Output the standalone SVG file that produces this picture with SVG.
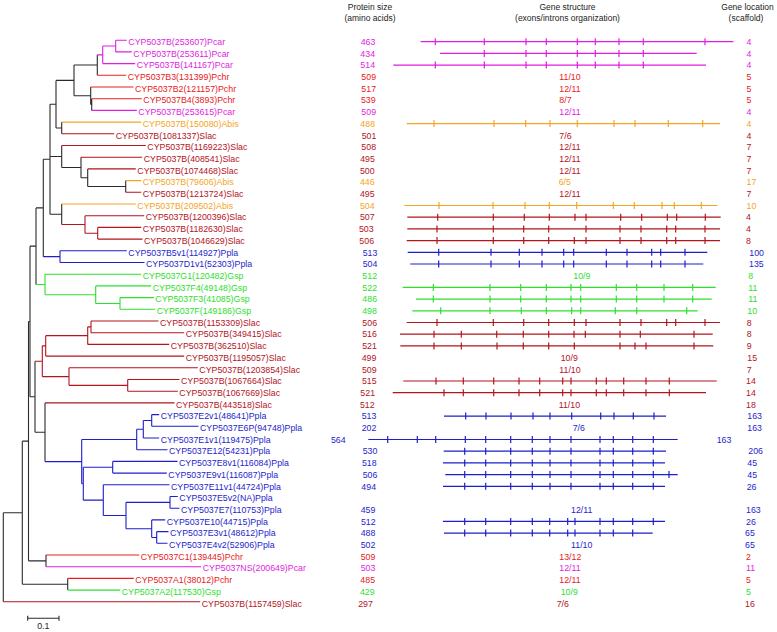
<svg xmlns="http://www.w3.org/2000/svg" width="777" height="632" viewBox="0 0 777 632">
<style>
text{font-family:"Liberation Sans",Arial,sans-serif;font-size:8.8px;stroke:none}
.h{font-size:8.5px;fill:#222;text-anchor:middle}
.n{text-anchor:middle}
path{fill:none;stroke-width:1.1}
.g path{stroke-width:1.2}
.bk{stroke:#2b2b2b;fill:#2b2b2b}
.mg{stroke:#e01ee0;fill:#e01ee0}
.rd{stroke:#e8201c;fill:#e8201c}
.dr{stroke:#b3141e;fill:#b3141e}
.or{stroke:#f5a524;fill:#f5a524}
.bl{stroke:#1e1ecc;fill:#1e1ecc}
.gr{stroke:#2ee02e;fill:#2ee02e}
</style>
<rect width="777" height="632" fill="#fff"/>
<g id="headers">
<text class="h" x="370" y="10">Protein size</text>
<text class="h" x="370" y="21">(amino acids)</text>
<text class="h" x="567.5" y="10">Gene structure</text>
<text class="h" x="567.5" y="21">(exons/introns organization)</text>
<text class="h" x="747.5" y="10">Gene location</text>
<text class="h" x="746" y="21">(scaffold)</text>
</g>
<g id="tree">
<path class="bk" d="M74 65.06H97.3M90.7 104.55H91.7M74 95.78H90.7M56 80.42H74M56 127.95H61.7M50 104.19H56M87.7 186.45H125.7M81 177.68H87.7M61.7 167.44H81M50 156.47H61.7M50 214.24H61.7M43.3 159.2H50M36 207.9H43.3M30 246.17H36M35 432.24H45M30 396.73H35M28.5 321.45H30M28.5 560.85H46M22.3 441.15H28.5M22.3 584.25H67.7M3.3 512.7H22.3M97.3 54.83V75.3M91.7 98.7V110.4M90.7 87V104.55M74 65.06V95.78M61.7 122.1V133.8M56 80.42V127.95M125.7 180.6V192.3M87.7 168.9V186.45M81 157.2V177.68M61.7 145.5V167.44M61.7 204V224.48M50 104.19V214.24M43.3 159.2V256.65M36 207.9V284.44M45 402.9V461.58M35 361.22V432.24M30 246.17V396.73M46 555V566.7M28.5 321.45V560.85M67.7 578.4V590.1M22.3 441.15V584.25M3.3 512.7V601.8"/>
<path class="mg" d="M115.7 40.2H126.8M115.7 51.9H131.8M102.7 63.6H135.2M91.7 110.4H136.8M46 566.7H201.2M102.7 46.05H115.7M97.3 54.83H102.7M115.7 40.2V51.9M102.7 46.05V63.6"/>
<path class="rd" d="M97.3 75.3H126.2M90.7 87H133.5M91.7 98.7H141.8M46 555H139.2M67.7 578.4H133.8"/>
<path class="or" d="M61.7 122.1H141.2M125.7 180.6H141.2M61.7 204H135.8"/>
<path class="dr" d="M61.7 133.8H114.2M61.7 145.5H145.8M81 157.2H142.2M87.7 168.9H135.8M125.7 192.3H141.2M85 215.7H144.2M97.7 227.4H141.2M97.7 239.1H142.5M91 321H158.5M91 332.7H184.2M87.7 344.4H169.2M45.7 356.1H184.2M69 367.8H197.8M127.7 379.5H179.5M127.7 391.2H177.8M45 402.9H174.5M3.3 601.8H200.2M85 233.25H97.7M61.7 224.48H85M87.7 326.85H91M45.7 335.63H87.7M42.3 345.86H45.7M69 385.35H127.7M42.3 376.58H69M35 361.22H42.3M97.7 227.4V239.1M85 215.7V233.25M91 321V332.7M87.7 326.85V344.4M45.7 335.63V356.1M127.7 379.5V391.2M69 367.8V385.35M42.3 345.86V376.58"/>
<path class="bl" d="M60 250.8H126.8M60 262.5H144.5M151.7 414.6H159.2M151.7 426.3H198.5M143.3 438H159.2M136.7 449.7H167.5M112.7 461.4H177.5M112.7 473.1H166.8M103.3 484.8H169.5M170 496.5H177.8M170 508.2H179.5M151.7 519.9H165.2M156.7 531.6H168.5M156.7 543.3H167.5M43.3 256.65H60M143.3 420.45H151.7M136.7 429.23H143.3M81.7 439.46H136.7M83.3 467.25H112.7M126 502.35H170M151.7 537.45H156.7M126 528.68H151.7M103.3 515.51H126M83.3 500.16H103.3M81.7 483.7H83.3M45 461.58H81.7M60 250.8V262.5M151.7 414.6V426.3M143.3 420.45V438M136.7 429.23V449.7M112.7 461.4V473.1M170 496.5V508.2M156.7 531.6V543.3M151.7 519.9V537.45M126 502.35V528.68M103.3 484.8V515.51M83.3 467.25V500.16M81.7 439.46V483.7"/>
<path class="gr" d="M45 274.2H141.2M95.7 285.9H151.2M120 297.6H153.8M120 309.3H155.2M67.7 590.1H120.2M95.7 303.45H120M45 294.68H95.7M36 284.44H45M120 297.6V309.3M95.7 285.9V303.45M45 274.2V294.68"/>
</g>
<g id="scale">
<path class="bk" d="M27.7 618.3H59M27.7 615.8v5M59 615.8v5"/>
<text class="n" x="43.3" y="629" fill="#222">0.1</text>
</g>
<g id="r1" class="mg g"><text x="128.3" y="44.9">CYP5037B(253607)Pcar</text><text class="n" x="368" y="44.9">463</text><path d="M420.7 41.7H733.3M435.3 38.2v7M484.3 38.2v7M526 38.2v7M546.3 38.2v7M577.3 38.2v7M595.3 38.2v7M619 38.2v7M643.3 38.2v7M705 38.2v7"/><text x="746.5" y="44.9">4</text></g>
<g id="r2" class="mg g"><text x="133.3" y="56.6">CYP5037B(253611)Pcar</text><text class="n" x="367.7" y="56.6">434</text><path d="M440 53.4H696.7M484.3 49.9v7M526 49.9v7M546.3 49.9v7M577.3 49.9v7M595.3 49.9v7M619 49.9v7M643.3 49.9v7"/><text x="746.5" y="56.6">4</text></g>
<g id="r3" class="mg g"><text x="136.7" y="68.3">CYP5037B(141167)Pcar</text><text class="n" x="367.7" y="68.3">514</text><path d="M393.3 65.1H706M435.3 61.6v7M484.3 61.6v7M526 61.6v7M546.3 61.6v7M577.3 61.6v7M595.3 61.6v7M619 61.6v7M643.3 61.6v7"/><text x="746.5" y="68.3">4</text></g>
<g id="r4" class="rd"><text x="127.7" y="80">CYP5037B3(131399)Pchr</text><text class="n" x="368.7" y="80">509</text><text x="559.3" y="80">11/10</text><text x="746.5" y="80">5</text></g>
<g id="r5" class="rd"><text x="135" y="91.7">CYP5037B2(121157)Pchr</text><text class="n" x="368.7" y="91.7">517</text><text x="559.3" y="91.7">12/11</text><text x="746.5" y="91.7">5</text></g>
<g id="r6" class="rd"><text x="143.3" y="103.4">CYP5037B4(3893)Pchr</text><text class="n" x="368.3" y="103.4">539</text><text x="559.3" y="103.4">8/7</text><text x="746.5" y="103.4">5</text></g>
<g id="r7" class="mg"><text x="138.3" y="115.1">CYP5037B(253615)Pcar</text><text class="n" x="368.7" y="115.1">509</text><text x="559.3" y="115.1">12/11</text><text x="746.5" y="115.1">4</text></g>
<g id="r8" class="or g"><text x="142.7" y="126.8">CYP5037B(150080)Abis</text><text class="n" x="367.7" y="126.8">488</text><path d="M406.7 123.6H720M434 120.1v7M494 120.1v7M525.7 120.1v7M550 120.1v7M577.3 120.1v7M614 120.1v7M635 120.1v7M668.3 120.1v7M702.7 120.1v7"/><text x="746.5" y="126.8">4</text></g>
<g id="r9" class="dr"><text x="115.7" y="138.5">CYP5037B(1081337)Slac</text><text class="n" x="369" y="138.5">501</text><text x="559.3" y="138.5">7/6</text><text x="746.5" y="138.5">4</text></g>
<g id="r10" class="dr"><text x="147.3" y="150.2">CYP5037B(1169223)Slac</text><text class="n" x="368.7" y="150.2">508</text><text x="559.3" y="150.2">12/11</text><text x="746.5" y="150.2">7</text></g>
<g id="r11" class="dr"><text x="143.7" y="161.9">CYP5037B(408541)Slac</text><text class="n" x="367.5" y="161.9">495</text><text x="559.3" y="161.9">12/11</text><text x="746.5" y="161.9">7</text></g>
<g id="r12" class="dr"><text x="137.3" y="173.6">CYP5037B(1074468)Slac</text><text class="n" x="367.3" y="173.6">500</text><text x="559.3" y="173.6">12/11</text><text x="746.5" y="173.6">7</text></g>
<g id="r13" class="or"><text x="142.7" y="185.3">CYP5037B(79606)Abis</text><text class="n" x="367.3" y="185.3">446</text><text x="558.7" y="185.3">6/5</text><text x="746.5" y="185.3">17</text></g>
<g id="r14" class="dr"><text x="142.7" y="197">CYP5037B(1213724)Slac</text><text class="n" x="367.3" y="197">495</text><text x="559.3" y="197">12/11</text><text x="746.5" y="197">7</text></g>
<g id="r15" class="or g"><text x="137.3" y="208.7">CYP5037B(209502)Abis</text><text class="n" x="367.3" y="208.7">504</text><path d="M404.3 205.5H717.3M439 202v7M493 202v7M525 202v7M549.3 202v7M576.7 202v7M613.3 202v7M634.3 202v7M662 202v7M674.3 202v7M701.3 202v7"/><text x="746.5" y="208.7">10</text></g>
<g id="r16" class="dr g"><text x="145.7" y="220.4">CYP5037B(1200396)Slac</text><text class="n" x="367.3" y="220.4">507</text><path d="M407.3 217.2H720.7M437.7 213.7v7M493.3 213.7v7M524.3 213.7v7M549.3 213.7v7M575 213.7v7M586 213.7v7M620.7 213.7v7M641.7 213.7v7M667.3 213.7v7M676.7 213.7v7M705.3 213.7v7"/><text x="746" y="220.4">4</text></g>
<g id="r17" class="dr g"><text x="142.7" y="232.1">CYP5037B(1182630)Slac</text><text class="n" x="366.3" y="232.1">503</text><path d="M407.3 228.9H720M437 225.4v7M493.3 225.4v7M523.7 225.4v7M548.7 225.4v7M586 225.4v7M620 225.4v7M641 225.4v7M666.7 225.4v7M675.7 225.4v7M705 225.4v7"/><text x="746" y="232.1">4</text></g>
<g id="r18" class="dr g"><text x="144" y="243.8">CYP5037B(1046629)Slac</text><text class="n" x="366.7" y="243.8">506</text><path d="M406.7 240.6H720M437 237.1v7M493.3 237.1v7M523.7 237.1v7M548.7 237.1v7M574.3 237.1v7M586 237.1v7M620 237.1v7M641 237.1v7M666.7 237.1v7M675.7 237.1v7M705 237.1v7"/><text x="746" y="243.8">8</text></g>
<g id="r19" class="bl g"><text x="128.3" y="255.5">CYP5037B5v1(114927)Ppla</text><text class="n" x="370" y="255.5">513</text><path d="M407.7 252.3H707.3M438.7 248.8v7M491 248.8v7M519.3 248.8v7M542 248.8v7M563.7 248.8v7M573.7 248.8v7M606.3 248.8v7M627 248.8v7M651.7 248.8v7M660.7 248.8v7M685 248.8v7"/><text x="749.3" y="255.5">100</text></g>
<g id="r20" class="bl g"><text x="146" y="267.2">CYP5037D1v1(52303)Ppla</text><text class="n" x="370" y="267.2">504</text><path d="M410.3 264H703.3M438.7 260.5v7M491 260.5v7M519.3 260.5v7M542 260.5v7M563.7 260.5v7M573.7 260.5v7M606.3 260.5v7M627 260.5v7M651.7 260.5v7M660.7 260.5v7M685 260.5v7"/><text x="749" y="267.2">135</text></g>
<g id="r21" class="gr"><text x="142.7" y="278.9">CYP5037G1(120482)Gsp</text><text class="n" x="369.7" y="278.9">512</text><text x="573.3" y="278.9">10/9</text><text x="748.3" y="278.9">8</text></g>
<g id="r22" class="gr g"><text x="152.7" y="290.6">CYP5037F4(49148)Gsp</text><text class="n" x="369.7" y="290.6">522</text><path d="M402.7 287.4H715.7M433.3 283.9v7M490 283.9v7M520.7 283.9v7M546.3 283.9v7M571 283.9v7M580.7 283.9v7M616.3 283.9v7M636.7 283.9v7M664 283.9v7M692.7 283.9v7"/><text x="748.3" y="290.6">11</text></g>
<g id="r23" class="gr g"><text x="155.3" y="302.3">CYP5037F3(41085)Gsp</text><text class="n" x="369.7" y="302.3">486</text><path d="M416 299.1H711.7M433.3 295.6v7M490 295.6v7M520.7 295.6v7M546.3 295.6v7M571 295.6v7M580.7 295.6v7M616.3 295.6v7M636.7 295.6v7M664 295.6v7M692.7 295.6v7"/><text x="748.3" y="302.3">11</text></g>
<g id="r24" class="gr g"><text x="156.7" y="314">CYP5037F(149186)Gsp</text><text class="n" x="369.5" y="314">498</text><path d="M412.3 310.8H697.7M440.7 307.3v7M490 307.3v7M521.3 307.3v7M546.3 307.3v7M571.7 307.3v7M580.7 307.3v7M615.3 307.3v7M636.7 307.3v7M686.7 307.3v7"/><text x="747.3" y="314">10</text></g>
<g id="r25" class="dr g"><text x="160" y="325.7">CYP5037B(1153309)Slac</text><text class="n" x="369.7" y="325.7">506</text><path d="M406.7 322.5H720M437 319v7M493.3 319v7M523.7 319v7M548.7 319v7M574.3 319v7M586 319v7M620 319v7M641 319v7M666.7 319v7M675.7 319v7M705 319v7"/><text x="746.7" y="325.7">8</text></g>
<g id="r26" class="dr g"><text x="185.7" y="337.4">CYP5037B(349415)Slac</text><text class="n" x="369.5" y="337.4">516</text><path d="M400 334.2H712.7M434 330.7v7M461.3 330.7v7M496.7 330.7v7M523.3 330.7v7M548.7 330.7v7M574 330.7v7M585.3 330.7v7M620 330.7v7M640.3 330.7v7M694 330.7v7"/><text x="746.7" y="337.4">8</text></g>
<g id="r27" class="dr g"><text x="170.7" y="349.1">CYP5037B(362510)Slac</text><text class="n" x="369.5" y="349.1">521</text><path d="M400.3 345.9H713.3M434 342.4v7M461.3 342.4v7M497 342.4v7M523.3 342.4v7M548.7 342.4v7M574.3 342.4v7M620 342.4v7M635 342.4v7M646 342.4v7M694 342.4v7"/><text x="746.7" y="349.1">9</text></g>
<g id="r28" class="dr"><text x="185.7" y="360.8">CYP5037B(1195057)Slac</text><text class="n" x="369" y="360.8">499</text><text x="560.7" y="360.8">10/9</text><text x="747.3" y="360.8">15</text></g>
<g id="r29" class="dr"><text x="199.3" y="372.5">CYP5037B(1203854)Slac</text><text class="n" x="369.3" y="372.5">509</text><text x="559.3" y="372.5">11/10</text><text x="746.7" y="372.5">7</text></g>
<g id="r30" class="dr g"><text x="181" y="384.2">CYP5037B(1067664)Slac</text><text class="n" x="369.3" y="384.2">515</text><path d="M403.3 381H716.7M436 377.5v7M463.3 377.5v7M493.7 377.5v7M519 377.5v7M539.7 377.5v7M562.7 377.5v7M571 377.5v7M596.3 377.5v7M606.3 377.5v7M623.7 377.5v7M646 377.5v7M669.3 377.5v7"/><text x="746" y="384.2">14</text></g>
<g id="r31" class="dr g"><text x="179.3" y="395.9">CYP5037B(1067669)Slac</text><text class="n" x="367.7" y="395.9">521</text><path d="M392.7 392.7H706M444 389.2v7M463.3 389.2v7M493.7 389.2v7M519 389.2v7M539.7 389.2v7M562.7 389.2v7M571 389.2v7M596.3 389.2v7M606.3 389.2v7M623.7 389.2v7M646 389.2v7M669.3 389.2v7"/><text x="746" y="395.9">14</text></g>
<g id="r32" class="dr"><text x="176" y="407.6">CYP5037B(443518)Slac</text><text class="n" x="367.3" y="407.6">512</text><text x="558.7" y="407.6">11/10</text><text x="746" y="407.6">18</text></g>
<g id="r33" class="bl g"><text x="160.7" y="419.3">CYP5037E2v1(48641)Ppla</text><text class="n" x="369" y="419.3">513</text><path d="M444 416.1H666M465.7 412.6v7M486 412.6v7M511 412.6v7M533 412.6v7M550 412.6v7M571.7 412.6v7M600.7 412.6v7M614 412.6v7M633.3 412.6v7M654 412.6v7"/><text x="747.3" y="419.3">163</text></g>
<g id="r34" class="bl"><text x="200" y="431">CYP5037E6P(94748)Ppla</text><text class="n" x="369" y="431">202</text><text x="572.7" y="431">7/6</text><text x="747.3" y="431">163</text></g>
<g id="r35" class="bl g"><text x="160.7" y="442.7">CYP5037E1v1(119475)Ppla</text><text class="n" x="338.3" y="442.7">564</text><path d="M368.3 439.5H677.7M387.7 436v7M417.3 436v7M435.7 436v7M465.3 436v7M485.7 436v7M510.7 436v7M532.3 436v7M550 436v7M571 436v7M600 436v7M613.3 436v7M632.7 436v7M653.3 436v7"/><text x="716.7" y="442.7">163</text></g>
<g id="r36" class="bl g"><text x="169" y="454.4">CYP5037E12(54231)Ppla</text><text class="n" x="370" y="454.4">530</text><path d="M443.7 451.2H666M464.7 447.7v7M485.7 447.7v7M510.7 447.7v7M532.3 447.7v7M550 447.7v7M571 447.7v7M600 447.7v7M613.3 447.7v7M632.7 447.7v7M653.3 447.7v7"/><text x="748.3" y="454.4">206</text></g>
<g id="r37" class="bl g"><text x="179" y="466.1">CYP5037E8v1(116084)Ppla</text><text class="n" x="369.3" y="466.1">518</text><path d="M443 462.9H665M464.7 459.4v7M485.7 459.4v7M510.7 459.4v7M532.3 459.4v7M550 459.4v7M571 459.4v7M600 459.4v7M613.3 459.4v7M632.7 459.4v7M653.3 459.4v7"/><text x="747.3" y="466.1">45</text></g>
<g id="r38" class="bl g"><text x="168.3" y="477.8">CYP5037E9v1(116087)Ppla</text><text class="n" x="370" y="477.8">506</text><path d="M445.3 474.6H677.7M464.7 471.1v7M485.7 471.1v7M510.7 471.1v7M532.3 471.1v7M550 471.1v7M571 471.1v7M600 471.1v7M613.3 471.1v7M632.7 471.1v7M653.3 471.1v7M669 471.1v7"/><text x="747.3" y="477.8">45</text></g>
<g id="r39" class="bl g"><text x="171" y="489.5">CYP5037E11v1(44724)Ppla</text><text class="n" x="368.7" y="489.5">494</text><path d="M443 486.3H665M464.7 482.8v7M485.7 482.8v7M510.7 482.8v7M532.3 482.8v7M550 482.8v7M571 482.8v7M600 482.8v7M613.3 482.8v7M632.7 482.8v7M653.3 482.8v7"/><text x="746.7" y="489.5">26</text></g>
<g id="r40" class="bl"><text x="179.3" y="501.2">CYP5037E5v2(NA)Ppla</text></g>
<g id="r41" class="bl"><text x="181" y="512.9">CYP5037E7(110753)Ppla</text><text class="n" x="368" y="512.9">459</text><text x="571" y="512.9">12/11</text><text x="746" y="512.9">163</text></g>
<g id="r42" class="bl g"><text x="166.7" y="524.6">CYP5037E10(44715)Ppla</text><text class="n" x="368.3" y="524.6">512</text><path d="M443 521.4H665M464.7 517.9v7M485.7 517.9v7M510.7 517.9v7M532.3 517.9v7M549.7 517.9v7M567.7 517.9v7M575 517.9v7M600 517.9v7M613.3 517.9v7M632.7 517.9v7M653.3 517.9v7"/><text x="746" y="524.6">26</text></g>
<g id="r43" class="bl g"><text x="170" y="536.3">CYP5037E3v1(48612)Ppla</text><text class="n" x="368" y="536.3">488</text><path d="M444 533.1H652.7M464.7 529.6v7M485.7 529.6v7M510.7 529.6v7M532.3 529.6v7M549.7 529.6v7M567.7 529.6v7M575 529.6v7M600 529.6v7M613.3 529.6v7M632.7 529.6v7"/><text x="745" y="536.3">65</text></g>
<g id="r44" class="bl"><text x="169" y="548">CYP5037E4v2(52906)Ppla</text><text class="n" x="368" y="548">502</text><text x="571" y="548">11/10</text><text x="745" y="548">65</text></g>
<g id="r45" class="rd"><text x="140.7" y="559.7">CYP5037C1(139445)Pchr</text><text class="n" x="368" y="559.7">509</text><text x="559.3" y="559.7">13/12</text><text x="746" y="559.7">2</text></g>
<g id="r46" class="mg"><text x="202.7" y="571.4">CYP5037NS(200649)Pcar</text><text class="n" x="368" y="571.4">503</text><text x="559.3" y="571.4">12/11</text><text x="746" y="571.4">11</text></g>
<g id="r47" class="rd"><text x="135.3" y="583.1">CYP5037A1(38012)Pchr</text><text class="n" x="367.7" y="583.1">485</text><text x="559.3" y="583.1">12/11</text><text x="746" y="583.1">5</text></g>
<g id="r48" class="gr"><text x="121.7" y="594.8">CYP5037A2(117530)Gsp</text><text class="n" x="367.3" y="594.8">429</text><text x="560.7" y="594.8">10/9</text><text x="746" y="594.8">5</text></g>
<g id="r49" class="dr"><text x="201.7" y="606.5">CYP5037B(1157459)Slac</text><text class="n" x="365.5" y="606.5">297</text><text x="556.7" y="606.5">7/6</text><text x="745" y="606.5">16</text></g>
</svg>
